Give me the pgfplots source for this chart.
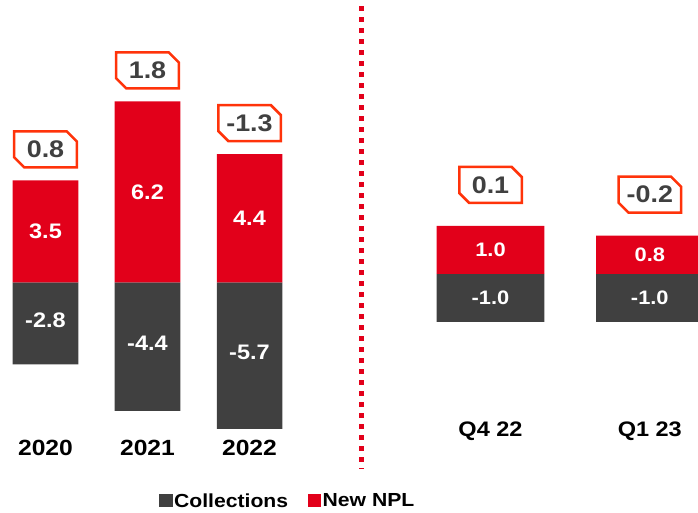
\documentclass[border=0pt]{standalone}
\usepackage{pgfplots}
\pgfplotsset{compat=1.18}
\usepackage{pgfplotstable}
\usepackage{fontspec}
\usetikzlibrary{shapes.misc}
\newfontfamily\chartfont{Liberation Sans}[FakeStretch=1.12]
\newcommand\fs[1]{\chartfont\bfseries\fontsize{#1}{#1}\selectfont}
\definecolor{nplred}{RGB}{226,0,26}
\definecolor{collgrey}{RGB}{64,64,64}
\definecolor{boxred}{RGB}{255,51,10}
\definecolor{boxtext}{RGB}{64,64,64}

\pgfplotstableread{
x npl coll net
0 3.5 -2.8 0.8
1 6.2 -4.4 1.8
2 4.4 -5.7 -1.3
}\annual
\pgfplotstableread{
x npl coll net
0 1.0 -1.0 0.1
1 0.8 -1.0 -0.2
}\quarterly

\tikzset{boxlab/.style={draw=boxred, line width=2.5pt, fill=white, text=boxtext,
  chamfered rectangle, chamfered rectangle corners={north east,south west},
  chamfered rectangle xsep=5pt, chamfered rectangle ysep=5pt,
  minimum width=62.5pt, minimum height=36pt, inner sep=0pt, font=\fs{24}}}

\pgfplotsset{
  chartaxis/.style={scale only axis, ybar, axis line style={draw=none},
    tick style={draw=none}, major tick length=0pt, ytick=\empty},
  collleg/.style={legend image code/.code={\fill[collgrey] (0pt,-6pt) rectangle (13.5pt,6.5pt);}},
  nplleg/.style={legend image code/.code={\fill[nplred] (0pt,-6pt) rectangle (13.5pt,6.5pt);}},
}

\begin{document}
\begin{tikzpicture}
\path[use as bounding box] (0,0) rectangle (698pt,513pt);

\begin{axis}[chartaxis, at={(-5.5pt,84.5pt)}, anchor=south west,
  width=306pt, height=408.8pt,
  xmin=-0.5, xmax=2.5, ymin=-5, ymax=9, bar width=65.5pt,
  xtick={0,1,2}, xticklabels={2020,2021,2022},
  xticklabel style={anchor=center, yshift=-19.5pt, font=\fs{22}, text=black},
  legend style={at={(0.9575,-0.1773)}, anchor=center, draw=none, fill=none,
    legend columns=2, font=\fs{18.9}, nodes={inner sep=1.5pt},
    /tikz/every even column/.append style={column sep=18pt}}]
\addplot[fill=collgrey, draw=none, bar shift=0pt, collleg]
  table[x=x, y=coll]{\annual};
\addlegendentry{Collections}
\addplot[fill=nplred, draw=none, bar shift=0pt, nplleg,
  nodes near coords, point meta=explicit symbolic,
  visualization depends on={\thisrow{npl} \as \rawy},
  every node near coord/.append style={anchor=center, text=white, font=\fs{21},
    shift={(axis direction cs:0,{-0.5*(\rawy)})}}]
  table[x=x, y=npl, meta=npl]{\annual};
\addlegendentry{New NPL}
% labels of the collections bars, centred on the visible part of each bar
\addplot[draw=none, fill=none, bar shift=0pt, forget plot,
  nodes near coords, point meta=explicit symbolic,
  visualization depends on={max(\thisrow{coll},-5) \as \rawy},
  every node near coord/.append style={anchor=center, text=white, font=\fs{21},
    shift={(axis direction cs:0,{-0.5*(\rawy)})}, yshift=3pt}]
  table[x=x, y expr={max(\thisrow{coll},-5)}, meta=coll]{\annual};
\addplot[draw=none, fill=none, bar shift=0pt, forget plot,
  nodes near coords, point meta=explicit symbolic,
  every node near coord/.append style={boxlab, anchor=center, yshift=31pt}]
  table[x=x, y=npl, meta=net]{\annual};
\end{axis}

\begin{axis}[chartaxis, at={(410.85pt,143pt)}, anchor=south west,
  width=318.6pt, height=336pt,
  xmin=-0.5, xmax=1.5, ymin=-2, ymax=5, bar width=107.6pt,
  xtick={0,1}, xticklabels={Q4 22,Q1 23},
  xticklabel style={anchor=center, yshift=-61.5pt, font=\fs{21}, text=black}]
\addplot[fill=collgrey, draw=none, bar shift=0pt,
  nodes near coords, point meta=explicit symbolic,
  visualization depends on={\thisrow{coll} \as \rawy},
  every node near coord/.append style={anchor=center, text=white, font=\fs{19.5},
    shift={(axis direction cs:0,{-0.5*(\rawy)})}}]
  table[x=x, y=coll, meta=coll]{\quarterly};
\addplot[fill=nplred, draw=none, bar shift=0pt,
  nodes near coords, point meta=explicit symbolic,
  visualization depends on={\thisrow{npl} \as \rawy},
  every node near coord/.append style={anchor=center, text=white, font=\fs{19.5},
    shift={(axis direction cs:0,{-0.5*(\rawy)})}}]
  table[x=x, y=npl, meta=npl]{\quarterly};
\addplot[draw=none, fill=none, bar shift=0pt, forget plot,
  nodes near coords, point meta=explicit symbolic,
  every node near coord/.append style={boxlab, anchor=center, yshift=41pt}]
  table[x=x, y=npl, meta=net]{\quarterly};
\end{axis}

\draw[nplred, line width=5pt, dash pattern=on 5pt off 6pt] (361pt,506.5pt) -- (361pt,44pt);
\end{tikzpicture}
\end{document}
